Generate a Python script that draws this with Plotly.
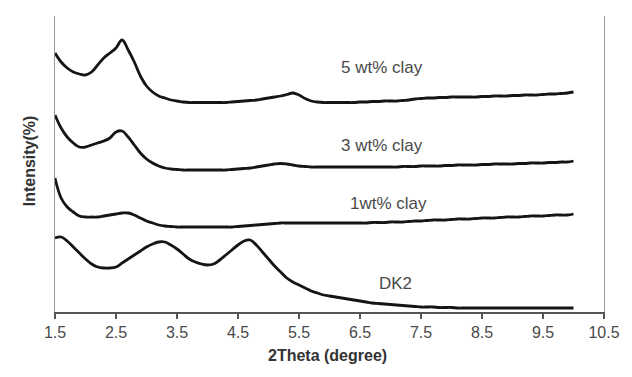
import plotly.graph_objects as go

# 2-theta positions (degree)
two_theta = [
    1.5, 1.6, 1.7, 1.8, 1.9, 2.0, 2.1, 2.2, 2.3, 2.4,
    2.5, 2.6, 2.7, 2.8, 2.9, 3.0, 3.1, 3.2, 3.3, 3.4,
    3.5, 3.6, 3.7, 3.8, 3.9, 4.0, 4.1, 4.2, 4.3, 4.4,
    4.5, 4.6, 4.7, 4.8, 4.9, 5.0, 5.1, 5.2, 5.3, 5.4,
    5.5, 5.6, 5.7, 5.8, 5.9, 6.0, 6.1, 6.2, 6.3, 6.4,
    6.5, 6.6, 6.7, 6.8, 6.9, 7.0, 7.1, 7.2, 7.3, 7.4,
    7.5, 7.6, 7.7, 7.8, 7.9, 8.0, 8.1, 8.2, 8.3, 8.4,
    8.5, 8.6, 8.7, 8.8, 8.9, 9.0, 9.1, 9.2, 9.3, 9.4,
    9.5, 9.6, 9.7, 9.8, 9.9, 10.0,
]

# Offset (stacked) intensities for each sample
clay_5wt = [
    259, 250, 244, 240, 238, 237, 240, 247, 254, 259,
    264, 272, 262, 250, 236, 226, 220, 216, 214, 212,
    211, 210, 209.5, 209.5, 209.5, 209.5, 209.5, 209.5, 209.5, 210,
    210.5, 211, 211.5, 212, 213, 214, 215, 216, 217.5, 219,
    217, 213.5, 211, 210, 209.5, 209.5, 209.5, 209.5, 209.5, 209.5,
    210, 210, 210.5, 210.5, 211, 211, 211, 211.5, 212, 213,
    213.5, 214, 214, 214.5, 214.5, 215, 215, 215, 215, 215,
    215.5, 215.5, 216, 216, 216, 216.5, 216.5, 217, 217, 217,
    217.5, 218, 218, 218.5, 219, 220,
]
clay_3wt = [
    197, 184, 175, 169, 165, 165, 167, 169, 171, 174,
    180, 181, 175, 167, 159, 153, 149, 146, 144, 143,
    142.5, 142, 142, 142, 142, 142, 142, 142, 142, 142.5,
    143, 143.5, 144, 145, 146, 147, 148, 148.5, 148, 147,
    146, 145.5, 145, 145, 145, 145, 145, 145, 145, 145,
    145, 145, 145, 145, 145, 145, 145, 145.5, 145.5, 145.5,
    146, 146, 146, 146, 146.5, 146.5, 147, 147, 147, 147,
    147.5, 147.5, 148, 148, 148, 148, 148.5, 148.5, 149, 149,
    149, 149.5, 149.5, 150, 150, 151,
]
clay_1wt = [
    134, 114, 105, 100, 96, 95, 95, 95, 96, 97,
    98, 99, 99, 97, 94, 91, 89, 87, 86, 85.5,
    85, 85, 85, 85, 85, 85, 85, 85, 85, 85,
    85.5, 86, 86.5, 87, 87.5, 88, 88.5, 89, 89, 89,
    89, 89, 89, 89, 89, 89, 89, 89, 89, 89,
    89, 89, 89.5, 89.5, 89.5, 90, 90, 90, 90.5, 91,
    91, 91.5, 92, 92, 92, 92.5, 93, 93, 93, 93.5,
    94, 94, 94, 94.5, 95, 95, 95, 95.5, 96, 96,
    96, 96.5, 97, 97, 97, 98,
]
dk2 = [
    74, 75, 71, 65, 59, 53, 48, 45, 44, 44,
    45, 49, 53, 57, 61, 65, 68, 70, 70, 67,
    63, 58, 53, 50, 48, 47, 48, 52, 57, 62,
    67, 71, 72, 67, 60, 53, 46, 40, 34, 30,
    27, 24, 21, 19, 17, 16, 15, 14, 13, 12,
    11, 10, 9, 8.5, 8, 7.5, 7, 6.5, 6, 5.5,
    5, 5, 5, 4.5, 4.5, 4.5, 4, 4, 4, 4,
    4, 4, 4, 4, 4, 4, 4, 4, 4, 4,
    4, 4, 4, 4, 4, 4,
]

series_names = ["5 wt% clay", "3 wt% clay", "1wt% clay", "DK2"]
series_values = [clay_5wt, clay_3wt, clay_1wt, dk2]

# curve label anchors (2-theta, intensity)
label_x = [6.86, 6.86, 6.97, 7.09]
label_y = [245, 167, 109, 29]

x_ticks = [1.5, 2.5, 3.5, 4.5, 5.5, 6.5, 7.5, 8.5, 9.5, 10.5]

FONT = "Liberation Sans, Arial, sans-serif"

fig = go.Figure()
for name, vals in zip(series_names, series_values):
    fig.add_trace(go.Scatter(
        x=two_theta, y=vals, mode="lines", name=name,
        line=dict(color="#151515", width=2.8, shape="spline", smoothing=1.1),
        showlegend=False,
    ))

for name, lx, ly in zip(series_names, label_x, label_y):
    fig.add_annotation(x=lx, y=ly, text=name, showarrow=False,
                       font=dict(family=FONT, size=17, color="#4a4a4a"))

fig.add_annotation(xref="paper", yref="paper", x=0.497, y=-0.182,
                   text="<b>2Theta (degree)</b>", showarrow=False,
                   font=dict(family=FONT, size=16, color="#333333"))
fig.add_annotation(xref="paper", yref="paper", x=-0.066, y=0.51,
                   text="<b>Intensity(%)</b>", textangle=-90, showarrow=False,
                   font=dict(family=FONT, size=16, color="#333333"))

fig.update_layout(
    width=632, height=377,
    margin=dict(l=55, r=18, t=16, b=65),
    paper_bgcolor="white", plot_bgcolor="white",
    font=dict(family=FONT, size=16, color="#4a4a4a"),
    xaxis=dict(
        range=[1.5, 10.5], tickvals=x_ticks,
        ticktext=[f"{t:.1f}" for t in x_ticks],
        showgrid=False, zeroline=False,
        showline=True, linecolor="#555555", linewidth=1.5,
        ticks="outside", ticklen=5, tickcolor="#555555", tickwidth=1.5,
        tickfont=dict(family=FONT, size=16, color="#4a4a4a"),
    ),
    yaxis=dict(
        range=[0, 296], showticklabels=False, ticks="",
        showgrid=False, zeroline=False,
        showline=True, linecolor="#999999", linewidth=1.2, mirror=True,
    ),
)

fig.write_html("out.html")
